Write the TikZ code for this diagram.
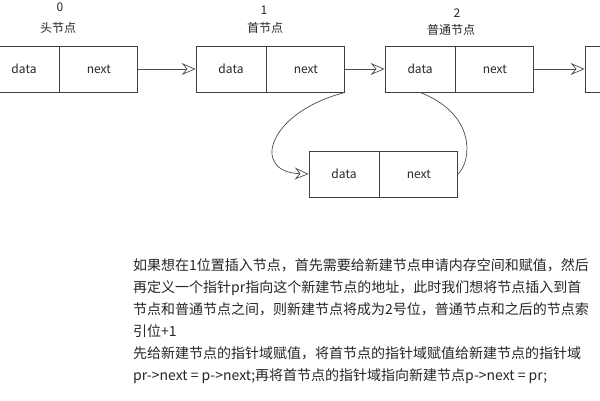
\documentclass[tikz,border=0pt]{standalone}
\usepackage{fontspec}
\setmainfont{Noto Sans CJK SC}
\usetikzlibrary{positioning,arrows.meta}
\begin{document}
\begin{tikzpicture}[x=1pt, y=-1pt,
	cell/.style={draw=black!75, line width=0.8pt, minimum height=46pt, inner sep=0pt, font=\fontsize{12}{14}\selectfont, text=black!85},
	data cell/.style={cell, minimum width=70pt},
	next cell/.style={cell, minimum width=78pt},
	link/.style={draw=black!70, line width=0.7pt, -{Stealth[open, length=14pt, width=12pt, inset=5pt]}},
	tag/.style={font=\fontsize{12}{14}\selectfont, text=black!85}]
	\clip (0,0) rectangle (600,400);
	%\draw[help lines] (0,0) grid (600,400);
		\foreach \i/\x in {0/24,1/231,2/420}{
		  \node[data cell] (d\i) at (\x,69) {data};
		  \node[next cell, right=0pt of d\i] (n\i) {next};
		}
		% only the edge of the last node shows
		\node[data cell] (d3) at (620,69) {};
		\foreach \i/\j in {0/1,1/2,2/3}{
		  \draw[link] (n\i) -- (d\j);
		}
		\node[tag] (i0) at (60,7) {0};
		\node[tag] (t0) at (58,28) {头节点};
		\node[tag] (i1) at (264,10) {1};
		\node[tag] (t1) at (265,28) {首节点};
		\node[tag] (i2) at (457,13) {2};
		\node[tag] (t2) at (451,30) {普通节点};
		\node[data cell] (dnew) at (344,174) {data};
		\node[next cell, right=0pt of dnew] (nnew) {next};
		\draw[link] (n1.south east) .. controls (268,112) and (250,172) .. (dnew.west);
		\draw[draw=black!70, line width=0.7pt] (d2.south) .. controls (476,114) and (472,160) .. (nnew.east);
		\node[anchor=north west, align=left, inner sep=0pt, text=black!85,
		  font=\fontsize{14}{22}\selectfont] (desc) at (133,258)
		  {如果想在1位置插入节点，首先需要给新建节点申请内存空间和赋值，然后\\
		   再定义一个指针pr指向这个新建节点的地址，此时我们想将节点插入到首\\
		   节点和普通节点之间，则新建节点将成为2号位，普通节点和之后的节点索\\
		   引位+1\\
		   先给新建节点的指针域赋值，将首节点的指针域赋值给新建节点的指针域\\
		   pr->next = p->next;再将首节点的指针域指向新建节点p->next = pr;};
\end{tikzpicture}
\end{document}
